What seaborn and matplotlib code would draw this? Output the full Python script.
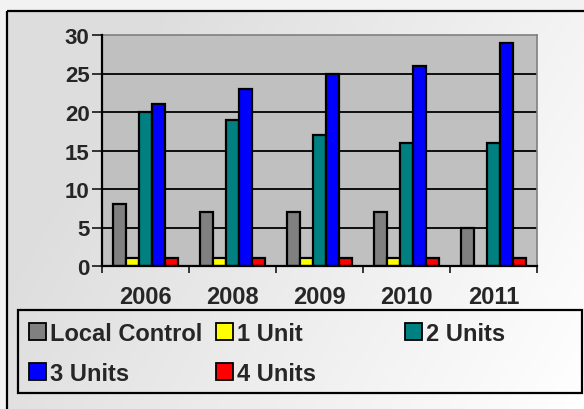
import numpy as np
import pandas as pd
import matplotlib
matplotlib.use("Agg")
import matplotlib.pyplot as plt
import seaborn as sns
from matplotlib.patches import Patch, Rectangle
from matplotlib.legend import Legend

years = ["2006", "2008", "2009", "2010", "2011"]
series = ["Local Control", "1 Unit", "2 Units", "3 Units", "4 Units"]
local_control = [8, 7, 7, 7, 5]
one_unit = [1, 1, 1, 1, 0]
two_units = [20, 19, 17, 16, 16]
three_units = [21, 23, 25, 26, 29]
four_units = [1, 1, 1, 1, 1]
colors = ["#808080", "#ffff00", "#008080", "#0000ff", "#ff0000"]

rows = []
for name, vals in zip(series, [local_control, one_unit, two_units, three_units, four_units]):
    for y, v in zip(years, vals):
        rows.append({"year": y, "series": name, "value": v})
df = pd.DataFrame(rows)

sns.set_style("white")
plt.rcParams["font.family"] = ["Liberation Sans", "DejaVu Sans"]
plt.rcParams["font.weight"] = "bold"

W, H = 584, 410
fig = plt.figure(figsize=(W / 100, H / 100), dpi=100)
fig.patch.set_facecolor("#f2f2f2")

# gradient background inside the chart frame
bg = fig.add_axes([0, 0, 1, 1], zorder=-10)
yy, xx = np.mgrid[0:1:200j, 0:1:200j]
grad = 0.87 + 0.13 * np.clip(xx * 0.9 + 0.35 * yy - 0.25, 0, 1)
bg.imshow(np.dstack([grad, grad, grad]), extent=[7, W, H, 12], aspect="auto", zorder=0)
bg.set_xlim(0, W); bg.set_ylim(H, 0); bg.axis("off")
bg.add_patch(Rectangle((7, 12), W, H, fill=False, edgecolor="black", linewidth=1.6, zorder=2))
# legend frame
bg.add_patch(Rectangle((18, 311), 582 - 18, 394 - 311, fill=False, edgecolor="black",
                       linewidth=1.6, zorder=2))

ax = fig.add_axes([102 / W, 1 - 267 / H, (537 - 102) / W, (267 - 36) / H])
ax.set_facecolor("#c0c0c0")
sns.barplot(data=df, x="year", y="value", hue="series", hue_order=series, palette=colors,
            saturation=1, edgecolor="black", linewidth=1.6, width=0.75, ax=ax, legend=False,
            zorder=3)
ax.set_ylim(0, 30)
ax.set_xlim(-0.5, 4.5)
ax.set_yticks(range(0, 31, 5))
ax.set_xlabel(""); ax.set_ylabel("")
for yv in range(5, 30, 5):
    ax.axhline(yv, color="black", linewidth=1.3, zorder=1)
ax.tick_params(axis="y", labelsize=16, length=7, width=1.3, direction="out", pad=2, left=True)
ax.tick_params(axis="x", labelsize=17, length=0, pad=14)
ax.set_xticks(range(5))
ax.set_xticklabels(years, fontweight="bold")
for lab in ax.get_yticklabels():
    lab.set_fontweight("bold")
ax.set_xticks(np.arange(-0.5, 5, 1), minor=True)
ax.tick_params(axis="x", which="minor", length=5, width=1.3, direction="out", bottom=True)
for s in ["top", "right"]:
    ax.spines[s].set_color("#808080")
    ax.spines[s].set_linewidth(1.2)
for s in ["left", "bottom"]:
    ax.spines[s].set_color("black")
    ax.spines[s].set_linewidth(1.6)
    ax.spines[s].set_zorder(5)

handles = [Patch(facecolor=c, edgecolor="black", linewidth=1.3) for c in colors]
columns = [([0, 3], 29), ([1, 4], 216), ([2], 405)]
row1_top = 323
for idxs, xpix in columns:
    lg = Legend(fig, [handles[i] for i in idxs], [series[i] for i in idxs],
                loc="upper left", bbox_to_anchor=(xpix / W, 1 - row1_top / H),
                bbox_transform=fig.transFigure, frameon=False,
                prop={"size": 17, "weight": "bold"}, handlelength=0.7, handleheight=0.7,
                handletextpad=0.2, borderaxespad=0, borderpad=0, labelspacing=0.72)
    fig.add_artist(lg)

fig.savefig("out.png", dpi=100, facecolor=fig.get_facecolor())
